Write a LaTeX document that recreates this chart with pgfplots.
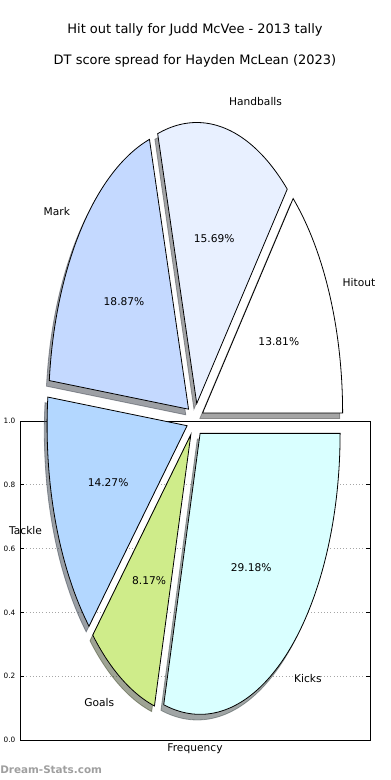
\documentclass[border=0pt]{standalone}
\usepackage{fontspec}
\setmainfont{DejaVu Sans}
\usepackage{pgfplots}
\pgfplotsset{compat=1.18}

\definecolor{cHit}{HTML}{FFFFFF}
\definecolor{cHand}{HTML}{E8F0FF}
\definecolor{cMark}{HTML}{C4D9FF}
\definecolor{cTack}{HTML}{B3D7FF}
\definecolor{cGoal}{HTML}{CFEC8A}
\definecolor{cKick}{HTML}{D9FFFF}

% data (percent shares)
\def\vA{13.81}% Hitout
\def\vB{15.69}% Handballs
\def\vC{18.87}% Mark
\def\vD{14.27}% Tackle
\def\vE{8.17}%  Goals
\def\vF{29.18}% Kicks

\newcommand\lblfont{\fontsize{8}{10}\selectfont}

\newcommand\wedgecalc[3]{%
  \pgfmathsetmacro\tmpS{#2}%
  \pgfmathsetmacro\tmpE{#2+360*#3/\vsum}%
  \pgfmathsetmacro\tmpM{(\tmpS+\tmpE)/2}%
  \pgfmathsetmacro\tmpC{cos(\tmpM)}%
  \pgfmathsetmacro\tmpSn{sin(\tmpM)}%
  \pgfmathsetmacro\tmpDX{0.06*\tmpC}%
  \pgfmathsetmacro\tmpDY{0.06*\tmpSn}%
  \pgfmathsetmacro\tmpLX{\tmpDX+1.1*\tmpC}%
  \pgfmathsetmacro\tmpLY{\tmpDY+1.1*\tmpSn}%
  \pgfmathsetmacro\tmpPX{\tmpDX+0.6*\tmpC}%
  \pgfmathsetmacro\tmpPY{\tmpDY+0.6*\tmpSn}%
  \ifdim\tmpC pt>0pt \def\tmpAn{west}\else\def\tmpAn{east}\fi
  \expandafter\xdef\csname w#1S\endcsname{\tmpS}%
  \expandafter\xdef\csname w#1E\endcsname{\tmpE}%
  \expandafter\xdef\csname w#1DX\endcsname{\tmpDX}%
  \expandafter\xdef\csname w#1DY\endcsname{\tmpDY}%
  \expandafter\xdef\csname w#1LX\endcsname{\tmpLX}%
  \expandafter\xdef\csname w#1LY\endcsname{\tmpLY}%
  \expandafter\xdef\csname w#1PX\endcsname{\tmpPX}%
  \expandafter\xdef\csname w#1PY\endcsname{\tmpPY}%
  \expandafter\xdef\csname w#1AN\endcsname{\tmpAn}%
}

\newcommand\pieshadow[2]{%
  \edef\tmpcmd{\noexpand\filldraw[fill=#2!30!black, draw=#2!30!black, fill opacity=0.5, draw opacity=0.5, line width=0.6pt]
   ({\csname w#1DX\endcsname-0.02},{\csname w#1DY\endcsname-0.02}) -- plot[domain=\csname w#1S\endcsname:\csname w#1E\endcsname, samples=80, variable=\noexpand\t] ({\csname w#1DX\endcsname-0.02+cos(\noexpand\t)},{\csname w#1DY\endcsname-0.02+sin(\noexpand\t)}) -- cycle;}%
  \tmpcmd}

\newcommand\piewedge[2]{%
  \edef\tmpcmd{\noexpand\filldraw[fill=#2, draw=black, line width=0.6pt]
   ({\csname w#1DX\endcsname},{\csname w#1DY\endcsname}) -- plot[domain=\csname w#1S\endcsname:\csname w#1E\endcsname, samples=80, variable=\noexpand\t] ({\csname w#1DX\endcsname+cos(\noexpand\t)},{\csname w#1DY\endcsname+sin(\noexpand\t)}) -- cycle;}%
  \tmpcmd}

\newcommand\pietext[3]{%
  \edef\tmpcmd{\noexpand\node[anchor=\csname w#1AN\endcsname, font=\noexpand\lblfont, inner sep=0pt] at ({\csname w#1LX\endcsname},{\csname w#1LY\endcsname}) {#2};
  \noexpand\node[font=\noexpand\lblfont, inner sep=0pt] at ({\csname w#1PX\endcsname},{\csname w#1PY\endcsname}) {#3\noexpand\%};}%
  \tmpcmd}

\begin{document}
\begin{tikzpicture}
\path[use as bounding box] (0,0) rectangle (292.5pt,585pt);

\pgfmathsetmacro\vsum{\vA+\vB+\vC+\vD+\vE+\vF}
\wedgecalc{A}{0}{\vA}
\wedgecalc{B}{\wAE}{\vB}
\wedgecalc{C}{\wBE}{\vC}
\wedgecalc{D}{\wCE}{\vD}
\wedgecalc{E}{\wDE}{\vE}
\wedgecalc{F}{\wEE}{\vF}

% titles
\node[font=\fontsize{9.75}{12}\selectfont] at (146.25pt,562.5pt) {Hit out tally for Judd McVee - 2013 tally};
\node[font=\fontsize{9.75}{12}\selectfont] at (146.25pt,539.25pt) {DT score spread for Hayden McLean (2023)};

% frame axis
\begin{axis}[at={(15pt,30pt)}, anchor=south west, scale only axis,
  width=262.5pt, height=239.25pt,
  xmin=0, xmax=1, ymin=0, ymax=1,
  xtick=\empty, ytick={0,0.2,0.4,0.6,0.8,1.0},
  scaled y ticks=false,
  y tick label style={font=\fontsize{5.5}{6}\selectfont,
    /pgf/number format/.cd, fixed, fixed zerofill, precision=1, assume math mode=true},
  tick align=inside, ytick pos=both, yticklabel pos=left,
  major tick length=3pt,
  tick style={black, line width=0.5pt},
  ymajorgrids, major grid style={dotted, gray!70, line width=0.5pt},
  axis line style={line width=0.6pt},
  xlabel={Frequency},
  xlabel style={at={(axis description cs:0.5,0)}, anchor=center, yshift=-6.75pt, font=\lblfont},
]
\end{axis}

% pie axis
\begin{axis}[at={(15pt,30pt)}, anchor=south west, scale only axis,
  width=262.5pt, height=239.25pt,
  xmin=-1.25, xmax=1.25, ymin=-1.1388, ymax=-0.00356,
  hide axis, clip=false]
\pieshadow{A}{cHit}
\pieshadow{B}{cHand}
\pieshadow{C}{cMark}
\pieshadow{D}{cTack}
\pieshadow{E}{cGoal}
\pieshadow{F}{cKick}
\piewedge{A}{cHit}
\piewedge{B}{cHand}
\piewedge{C}{cMark}
\piewedge{D}{cTack}
\piewedge{E}{cGoal}
\piewedge{F}{cKick}
\pietext{A}{Hitout}{\vA}
\pietext{B}{Handballs}{\vB}
\pietext{C}{Mark}{\vC}
\pietext{D}{Tackle}{\vD}
\pietext{E}{Goals}{\vE}
\pietext{F}{Kicks}{\vF}
\end{axis}

\node[anchor=west, inner sep=0pt, font=\bfseries\fontsize{7.8}{9}\selectfont, text=gray!75] at (0pt,7.5pt) {Dream-Stats.com};
\end{tikzpicture}
\end{document}
